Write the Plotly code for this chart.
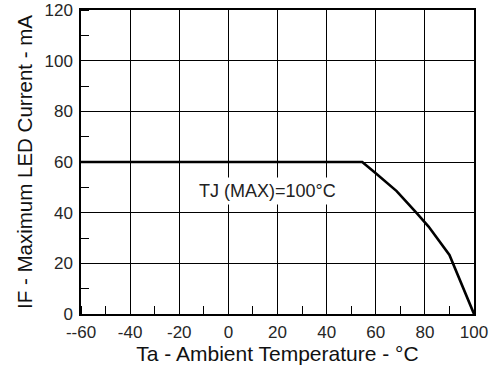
import plotly.graph_objects as go

# Data
temp_c = [-60, 54.5, 60, 68.5, 76.5, 81.5, 90, 100]
current_ma = [60, 60, 55.6, 48.5, 40, 34.5, 23.3, 0]

x_tickvals = [-60, -40, -20, 0, 20, 40, 60, 80, 100]
x_ticktext = ["--60", "-40", "-20", "0", "20", "40", "60", "80", "100"]
y_tickvals = [0, 20, 40, 60, 80, 100, 120]
y_ticktext = ["0", "20", "40", "60", "80", "100", "120"]

FONT = "Liberation Sans, Arial, Helvetica, sans-serif"

fig = go.Figure()
fig.add_trace(go.Scatter(
    x=temp_c, y=current_ma, mode="lines",
    line=dict(color="black", width=2.6),
    showlegend=False, hoverinfo="skip",
))

fig.add_annotation(
    x=16, y=48.6, xref="x", yref="y",
    text="TJ (MAX)=100°C", showarrow=False,
    font=dict(family=FONT, size=18, color="#222"),
    bgcolor="white", borderpad=3,
)

axis_common = dict(
    showgrid=True, gridcolor="black", gridwidth=1.3,
    showline=True, linecolor="black", linewidth=1.5, mirror=True,
    zeroline=False, ticks="", automargin=False,
    tickfont=dict(family=FONT, size=17, color="#262626"),
    minor=dict(dtick=10, ticks="inside", ticklen=8, tickcolor="black",
               tickwidth=1.2, showgrid=False),
    tickmode="array",
)

fig.update_xaxes(
    range=[-60, 100], tickvals=x_tickvals, ticktext=x_ticktext,
    ticklabelstandoff=2,
    title=dict(text="Ta - Ambient Temperature - °C",
               font=dict(family=FONT, size=21, color="#111"), standoff=4),
    **axis_common,
)
fig.update_yaxes(
    range=[0, 120], tickvals=y_tickvals, ticktext=y_ticktext,
    ticklabelstandoff=3,
    title=dict(text="IF - Maximum LED Current - mA",
               font=dict(family=FONT, size=20.5, color="#111"), standoff=6),
    **axis_common,
)

fig.update_layout(
    width=496, height=368,
    margin=dict(l=81, r=22, t=10, b=54),
    paper_bgcolor="white", plot_bgcolor="white",
)

fig.write_html("out.html")
